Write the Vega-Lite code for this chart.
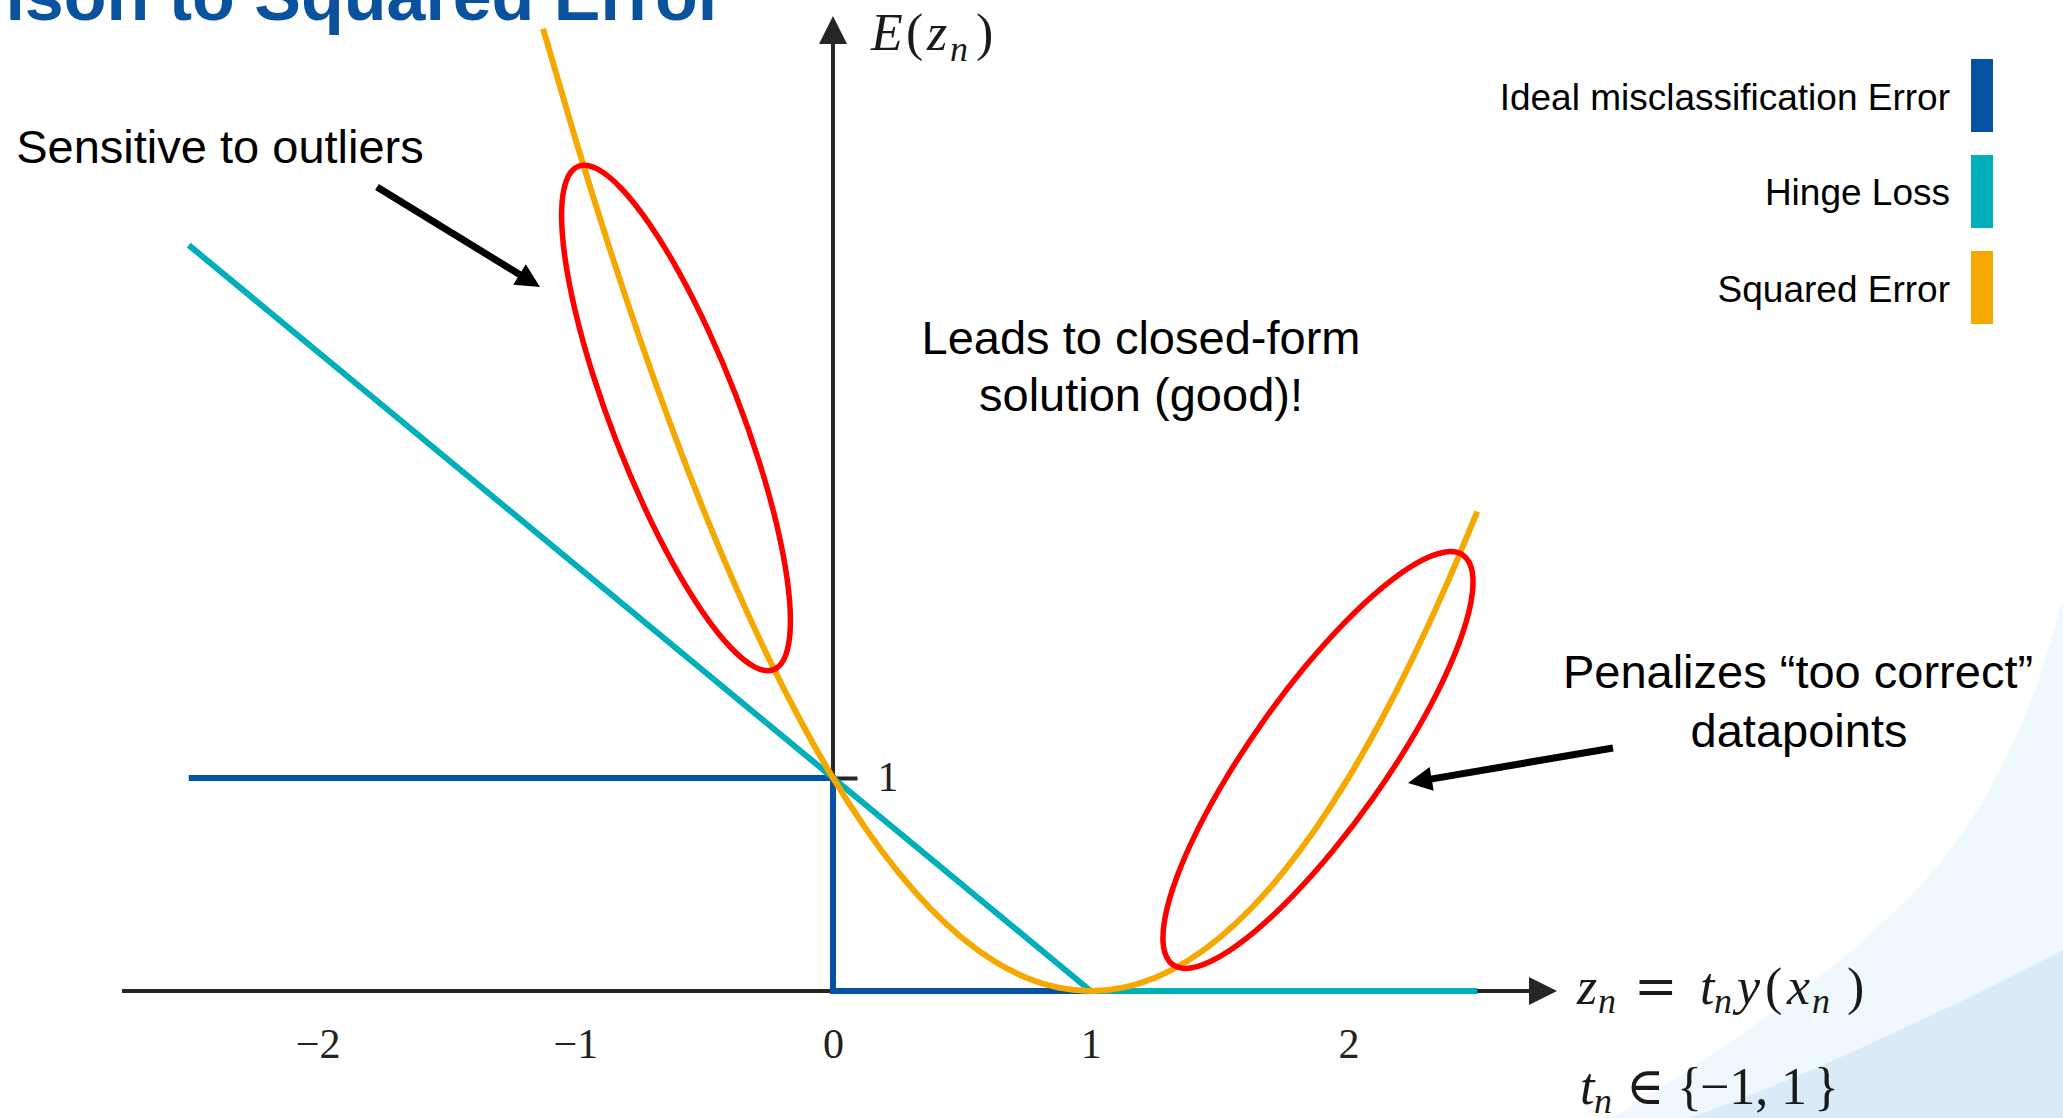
{
  "$schema": "https://vega.github.io/schema/vega-lite/v6.json",
  "width": 2063,
  "height": 1118,
  "padding": 0,
  "autosize": {"type": "none"},
  "background": "#ffffff",
  "config": {"view": {"stroke": null}},
  "encoding": {
    "x": {
      "field": "x", "type": "quantitative",
      "scale": {"domain": [-3.2324, 4.773], "nice": false, "zero": false},
      "axis": {"orient": "bottom", "offset": -61, "domain": false, "ticks": false, "tickSize": 0, "grid": false,
        "values": [-2, -1, 0, 1, 2], "labelFont": "Liberation Serif", "labelFontSize": 42, "labelColor": "#222222",
        "labelBaseline": "alphabetic", "labelPadding": 0, "labelFlush": false, "labelOverlap": false, "title": null}
    },
    "y": {
      "field": "y", "type": "quantitative",
      "scale": {"domain": [-0.596, 4.6504], "nice": false, "zero": false},
      "axis": {"orient": "right", "offset": -1230, "domain": false, "ticks": true, "tickSize": 24, "tickWidth": 4,
        "tickColor": "#262626", "grid": false, "values": [1], "labelFont": "Liberation Serif", "labelFontSize": 42,
        "labelColor": "#222222", "labelPadding": 20, "labelBaseline": "middle", "labelAlign": "left",
        "labelFlush": false, "title": null}
    }
  },
  "layer": [
    {
      "data": {"values": [
        {"x": 3.0229, "y": -0.596, "y2": -0.596},
        {"x": 3.3644, "y": -0.3332, "y2": -0.596},
        {"x": 3.7524, "y": -0.0047, "y2": -0.596},
        {"x": 4.0629, "y": 0.3097, "y2": -0.596},
        {"x": 4.3345, "y": 0.6617, "y2": -0.596},
        {"x": 4.5285, "y": 1.0371, "y2": -0.596},
        {"x": 4.6643, "y": 1.4125, "y2": -0.596},
        {"x": 4.773, "y": 1.8348, "y2": -0.596}
      ]},
      "mark": {"type": "area", "interpolate": "monotone", "color": "#eef8fd", "opacity": 1},
      "encoding": {"y2": {"field": "y2"}}
    },
    {
      "data": {"values": [
        {"x": 3.3256, "y": -0.596, "y2": -0.596},
        {"x": 3.7524, "y": -0.3942, "y2": -0.596},
        {"x": 4.1405, "y": -0.183, "y2": -0.596},
        {"x": 4.4509, "y": -0.0047, "y2": -0.596},
        {"x": 4.773, "y": 0.1924, "y2": -0.596}
      ]},
      "mark": {"type": "area", "interpolate": "monotone", "color": "#dbeaf7", "opacity": 1},
      "encoding": {"y2": {"field": "y2"}}
    },
    {
      "data": {"values": [
        {"axis": "z", "x": -2.759, "y": 0, "x2": 2.7552, "y2": 0},
        {"axis": "E", "x": 0, "y": 0, "x2": 0, "y2": 4.5096}
      ]},
      "mark": {"type": "rule", "color": "#262626", "strokeWidth": 4},
      "encoding": {"x2": {"field": "x2"}, "y2": {"field": "y2"}}
    },
    {
      "data": {"values": [{"x": 2.8095, "y": 0}]},
      "mark": {"type": "point", "shape": "M0,0L-2,-1L-2,1Z", "size": 784, "filled": true, "color": "#262626", "opacity": 1, "strokeWidth": 0}
    },
    {
      "data": {"values": [{"x": 0, "y": 4.5753}]},
      "mark": {"type": "point", "shape": "M0,0L-1,2L1,2Z", "size": 784, "filled": true, "color": "#262626", "opacity": 1, "strokeWidth": 0}
    },
    {
      "data": {"values": [
        {"series": "Ideal misclassification Error", "i": 0, "x": -2.5, "y": 1},
        {"series": "Ideal misclassification Error", "i": 1, "x": 0, "y": 1},
        {"series": "Ideal misclassification Error", "i": 2, "x": 0, "y": 0},
        {"series": "Ideal misclassification Error", "i": 3, "x": 2.5, "y": 0},
        {"series": "Hinge Loss", "i": 0, "x": -2.5, "y": 3.5},
        {"series": "Hinge Loss", "i": 1, "x": 1, "y": 0},
        {"series": "Hinge Loss", "i": 2, "x": 2.5, "y": 0}
      ]},
      "mark": {"type": "line", "strokeWidth": 6, "strokeCap": "butt", "strokeJoin": "miter"},
      "encoding": {
        "color": {"field": "series", "type": "nominal", "legend": null,
          "scale": {"domain": ["Ideal misclassification Error", "Hinge Loss", "Squared Error"], "range": ["#0452a1", "#00afb9", "#f5a800"]}},
        "order": {"field": "i", "type": "quantitative"}
      }
    },
    {
      "data": {"values": [
        {"series": "Squared Error", "x": -1.125, "y": 4.515625},
        {"series": "Squared Error", "x": -1.0, "y": 4.0},
        {"series": "Squared Error", "x": -0.875, "y": 3.515625},
        {"series": "Squared Error", "x": -0.75, "y": 3.0625},
        {"series": "Squared Error", "x": -0.625, "y": 2.640625},
        {"series": "Squared Error", "x": -0.5, "y": 2.25},
        {"series": "Squared Error", "x": -0.375, "y": 1.890625},
        {"series": "Squared Error", "x": -0.25, "y": 1.5625},
        {"series": "Squared Error", "x": -0.125, "y": 1.265625},
        {"series": "Squared Error", "x": 0.0, "y": 1.0},
        {"series": "Squared Error", "x": 0.125, "y": 0.765625},
        {"series": "Squared Error", "x": 0.25, "y": 0.5625},
        {"series": "Squared Error", "x": 0.375, "y": 0.390625},
        {"series": "Squared Error", "x": 0.5, "y": 0.25},
        {"series": "Squared Error", "x": 0.625, "y": 0.140625},
        {"series": "Squared Error", "x": 0.75, "y": 0.0625},
        {"series": "Squared Error", "x": 0.875, "y": 0.015625},
        {"series": "Squared Error", "x": 1.0, "y": 0.0},
        {"series": "Squared Error", "x": 1.125, "y": 0.015625},
        {"series": "Squared Error", "x": 1.25, "y": 0.0625},
        {"series": "Squared Error", "x": 1.375, "y": 0.140625},
        {"series": "Squared Error", "x": 1.5, "y": 0.25},
        {"series": "Squared Error", "x": 1.625, "y": 0.390625},
        {"series": "Squared Error", "x": 1.75, "y": 0.5625},
        {"series": "Squared Error", "x": 1.875, "y": 0.765625},
        {"series": "Squared Error", "x": 2.0, "y": 1.0},
        {"series": "Squared Error", "x": 2.125, "y": 1.265625},
        {"series": "Squared Error", "x": 2.25, "y": 1.5625},
        {"series": "Squared Error", "x": 2.375, "y": 1.890625},
        {"series": "Squared Error", "x": 2.5, "y": 2.25}
      ]},
      "mark": {"type": "line", "strokeWidth": 6, "interpolate": "monotone"},
      "encoding": {
        "color": {"field": "series", "type": "nominal", "legend": null,
          "scale": {"domain": ["Ideal misclassification Error", "Hinge Loss", "Squared Error"], "range": ["#0452a1", "#00afb9", "#f5a800"]}}
      }
    },
    {
      "data": {"values": [
        {"ring": "outliers", "i": 0, "x": -0.2305, "y": 1.5078},
        {"ring": "outliers", "i": 1, "x": -0.1834, "y": 1.5762},
        {"ring": "outliers", "i": 2, "x": -0.1653, "y": 1.7203},
        {"ring": "outliers", "i": 3, "x": -0.1776, "y": 1.9304},
        {"ring": "outliers", "i": 4, "x": -0.2191, "y": 2.1922},
        {"ring": "outliers", "i": 5, "x": -0.2874, "y": 2.4879},
        {"ring": "outliers", "i": 6, "x": -0.3775, "y": 2.7973},
        {"ring": "outliers", "i": 7, "x": -0.4834, "y": 3.0993},
        {"ring": "outliers", "i": 8, "x": -0.5979, "y": 3.3734},
        {"ring": "outliers", "i": 9, "x": -0.7132, "y": 3.6008},
        {"ring": "outliers", "i": 10, "x": -0.8213, "y": 3.7659},
        {"ring": "outliers", "i": 11, "x": -0.915, "y": 3.8578},
        {"ring": "outliers", "i": 12, "x": -0.9879, "y": 3.87},
        {"ring": "outliers", "i": 13, "x": -1.035, "y": 3.8016},
        {"ring": "outliers", "i": 14, "x": -1.0531, "y": 3.6575},
        {"ring": "outliers", "i": 15, "x": -1.0408, "y": 3.4474},
        {"ring": "outliers", "i": 16, "x": -0.9993, "y": 3.1856},
        {"ring": "outliers", "i": 17, "x": -0.931, "y": 2.8899},
        {"ring": "outliers", "i": 18, "x": -0.8409, "y": 2.5805},
        {"ring": "outliers", "i": 19, "x": -0.735, "y": 2.2785},
        {"ring": "outliers", "i": 20, "x": -0.6205, "y": 2.0044},
        {"ring": "outliers", "i": 21, "x": -0.5052, "y": 1.777},
        {"ring": "outliers", "i": 22, "x": -0.3971, "y": 1.6119},
        {"ring": "outliers", "i": 23, "x": -0.3034, "y": 1.52},
        {"ring": "too correct", "i": 0, "x": 2.4451, "y": 2.045},
        {"ring": "too correct", "i": 1, "x": 2.4808, "y": 1.9652},
        {"ring": "too correct", "i": 2, "x": 2.4758, "y": 1.8254},
        {"ring": "too correct", "i": 3, "x": 2.4303, "y": 1.6351},
        {"ring": "too correct", "i": 4, "x": 2.3475, "y": 1.4072},
        {"ring": "too correct", "i": 5, "x": 2.2328, "y": 1.1573},
        {"ring": "too correct", "i": 6, "x": 2.0943, "y": 0.9024},
        {"ring": "too correct", "i": 7, "x": 1.9414, "y": 0.6599},
        {"ring": "too correct", "i": 8, "x": 1.7843, "y": 0.4462},
        {"ring": "too correct", "i": 9, "x": 1.6339, "y": 0.2761},
        {"ring": "too correct", "i": 10, "x": 1.5006, "y": 0.161},
        {"ring": "too correct", "i": 11, "x": 1.393, "y": 0.1088},
        {"ring": "too correct", "i": 12, "x": 1.3189, "y": 0.123},
        {"ring": "too correct", "i": 13, "x": 1.2832, "y": 0.2028},
        {"ring": "too correct", "i": 14, "x": 1.2882, "y": 0.3426},
        {"ring": "too correct", "i": 15, "x": 1.3337, "y": 0.5329},
        {"ring": "too correct", "i": 16, "x": 1.4165, "y": 0.7608},
        {"ring": "too correct", "i": 17, "x": 1.5312, "y": 1.0107},
        {"ring": "too correct", "i": 18, "x": 1.6697, "y": 1.2656},
        {"ring": "too correct", "i": 19, "x": 1.8226, "y": 1.5081},
        {"ring": "too correct", "i": 20, "x": 1.9797, "y": 1.7218},
        {"ring": "too correct", "i": 21, "x": 2.1301, "y": 1.8919},
        {"ring": "too correct", "i": 22, "x": 2.2634, "y": 2.007},
        {"ring": "too correct", "i": 23, "x": 2.371, "y": 2.0592}
      ]},
      "mark": {"type": "line", "interpolate": "cardinal-closed", "color": "#ff0000", "strokeWidth": 5.5},
      "encoding": {
        "detail": {"field": "ring", "type": "nominal"},
        "order": {"field": "i", "type": "quantitative"}
      }
    },
    {
      "data": {"values": [
        {"pointer": "outliers", "x": -1.7695, "y": 3.7729, "x2": -1.1832, "y2": 3.3379},
        {"pointer": "too correct", "x": 3.0268, "y": 1.1403, "x2": 2.2848, "y2": 0.9873}
      ]},
      "mark": {"type": "rule", "color": "#000000", "strokeWidth": 7},
      "encoding": {"x2": {"field": "x2"}, "y2": {"field": "y2"}}
    },
    {
      "data": {"values": [{"x": -1.137, "y": 3.3036}]},
      "mark": {"type": "point", "shape": "M0,0L-2,-1L-2,1Z", "size": 576, "angle": 31.5, "filled": true, "color": "#000000", "opacity": 1, "strokeWidth": 0}
    },
    {
      "data": {"values": [{"x": 2.2313, "y": 0.9761}]},
      "mark": {"type": "point", "shape": "M0,0L-2,-1L-2,1Z", "size": 576, "angle": 170.3, "filled": true, "color": "#000000", "opacity": 1, "strokeWidth": 0}
    },
    {
      "data": {"values": [
        {"t": "Sensitive to outliers", "x": -2.3787, "y": 3.8855},
        {"t": "Leads to closed-form", "x": 1.1952, "y": 2.9874},
        {"t": "solution (good)!", "x": 1.1952, "y": 2.7199},
        {"t": "Penalizes “too correct”", "x": 3.7447, "y": 1.4219},
        {"t": "datapoints", "x": 3.7486, "y": 1.145}
      ]},
      "mark": {"type": "text", "font": "Liberation Sans", "fontSize": 47, "color": "#000000", "align": "center", "baseline": "alphabetic"},
      "encoding": {"text": {"field": "t"}}
    },
    {
      "data": {"values": [{"t": "Comparison to Squared Error", "x": -0.4191, "y": 4.5566}]},
      "mark": {"type": "text", "font": "Liberation Sans", "fontWeight": "bold", "fontSize": 70, "color": "#0a519e", "align": "right", "baseline": "alphabetic"},
      "encoding": {"text": {"field": "t"}}
    },
    {
      "data": {"values": [
        {"series": "Ideal misclassification Error", "x": 4.416, "x2": 4.5013, "y": 4.3735, "y2": 4.031},
        {"series": "Hinge Loss", "x": 4.416, "x2": 4.5013, "y": 3.923, "y2": 3.5805},
        {"series": "Squared Error", "x": 4.416, "x2": 4.5013, "y": 3.4726, "y2": 3.13}
      ]},
      "mark": {"type": "rect", "opacity": 1},
      "encoding": {
        "x2": {"field": "x2"}, "y2": {"field": "y2"},
        "color": {"field": "series", "type": "nominal", "legend": null,
          "scale": {"domain": ["Ideal misclassification Error", "Hinge Loss", "Squared Error"], "range": ["#0452a1", "#00afb9", "#f5a800"]}}
      }
    },
    {
      "data": {"values": [
        {"series": "Ideal misclassification Error", "x": 4.3345, "y": 4.188},
        {"series": "Hinge Loss", "x": 4.3345, "y": 3.738},
        {"series": "Squared Error", "x": 4.3345, "y": 3.287}
      ]},
      "mark": {"type": "text", "font": "Liberation Sans", "fontSize": 37, "color": "#000000", "align": "right", "baseline": "middle"},
      "encoding": {"text": {"field": "series"}}
    },
    {
      "data": {"values": [
        {"t": "E", "x": 0.1475, "y": 4.4158},
        {"t": "z", "x": 0.3648, "y": 4.4158},
        {"t": "z", "x": 2.8871, "y": -0.061},
        {"t": "t", "x": 3.3644, "y": -0.061},
        {"t": "y", "x": 3.508, "y": -0.061},
        {"t": "x", "x": 3.702, "y": -0.061},
        {"t": "t", "x": 2.8987, "y": -0.5303}
      ]},
      "mark": {"type": "text", "font": "Liberation Serif", "fontStyle": "italic", "fontSize": 52, "color": "#1a1a1a", "align": "left", "baseline": "alphabetic"},
      "encoding": {"text": {"field": "t"}}
    },
    {
      "data": {"values": [
        {"t": "n", "x": 0.454, "y": 4.3642},
        {"t": "n", "x": 2.9686, "y": -0.1032},
        {"t": "n", "x": 3.4187, "y": -0.1032},
        {"t": "n", "x": 3.799, "y": -0.1032},
        {"t": "n", "x": 2.953, "y": -0.5725}
      ]},
      "mark": {"type": "text", "font": "Liberation Serif", "fontStyle": "italic", "fontSize": 36, "color": "#1a1a1a", "align": "left", "baseline": "alphabetic"},
      "encoding": {"text": {"field": "t"}}
    },
    {
      "data": {"values": [
        {"t": "(", "x": 0.2833, "y": 4.4158},
        {"t": ")", "x": 0.5549, "y": 4.4158},
        {"t": "(", "x": 3.6166, "y": -0.061},
        {"t": ")", "x": 3.9348, "y": -0.061},
        {"t": "{", "x": 3.2751, "y": -0.5303},
        {"t": "−1,", "x": 3.3644, "y": -0.5303},
        {"t": "1", "x": 3.6787, "y": -0.5303},
        {"t": "}", "x": 3.8068, "y": -0.5303}
      ]},
      "mark": {"type": "text", "font": "Liberation Serif", "fontSize": 52, "color": "#1a1a1a", "align": "left", "baseline": "alphabetic"},
      "encoding": {"text": {"field": "t"}}
    },
    {
      "data": {"values": [
        {"t": "=", "x": 3.1083, "y": -0.061},
        {"t": "∈", "x": 3.0772, "y": -0.5303}
      ]},
      "mark": {"type": "text", "font": "DejaVu Serif", "fontSize": 52, "color": "#1a1a1a", "align": "left", "baseline": "alphabetic"},
      "encoding": {"text": {"field": "t"}}
    }
  ]
}
